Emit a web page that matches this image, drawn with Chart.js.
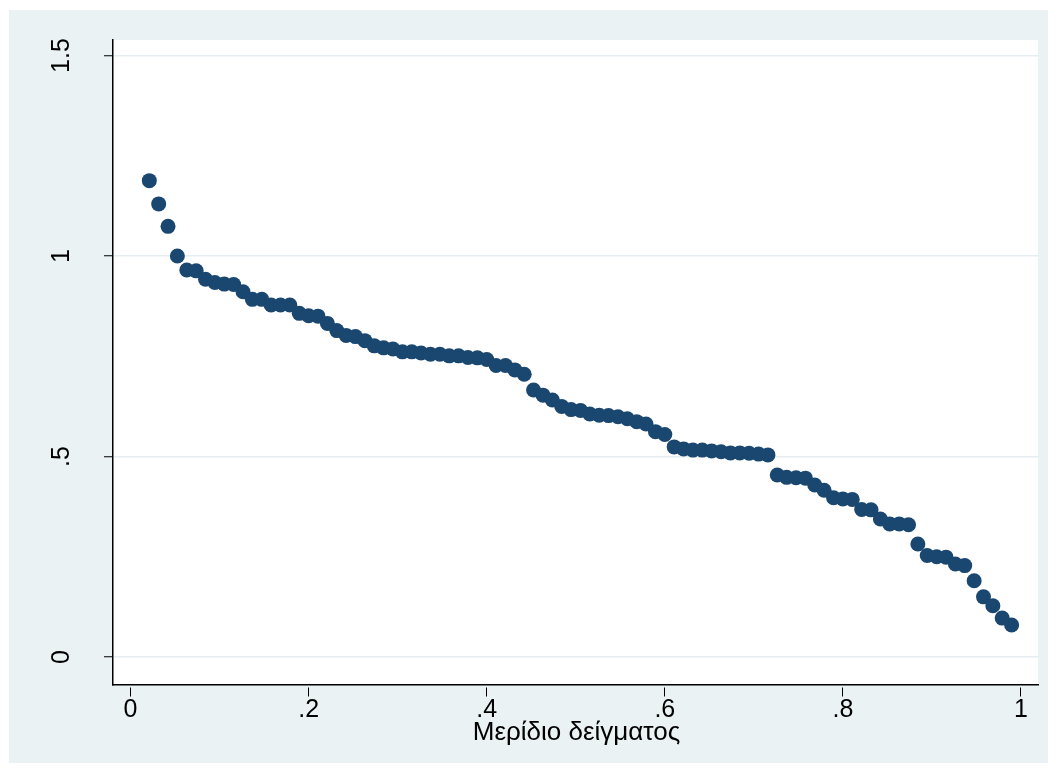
<!DOCTYPE html>
<html>
<head>
<meta charset="utf-8">
<script src="https://cdn.jsdelivr.net/npm/chart.js@4.4.0/dist/chart.umd.min.js"></script>
<style>
    html, body { margin: 0; padding: 0; background: #fff; }
</style>
</head>
<body>
<canvas id="shareChart" width="1057" height="773"></canvas>
<script>
// sample share (x) and sorted values (y)
const sampleShare = [
    0.0211, 0.0316, 0.0421, 0.0526, 0.0632, 0.0737, 0.0842, 0.0947, 0.1053, 0.1158,
    0.1263, 0.1368, 0.1474, 0.1579, 0.1684, 0.1789, 0.1895, 0.2000, 0.2105, 0.2211,
    0.2316, 0.2421, 0.2526, 0.2632, 0.2737, 0.2842, 0.2947, 0.3053, 0.3158, 0.3263,
    0.3368, 0.3474, 0.3579, 0.3684, 0.3789, 0.3895, 0.4000, 0.4105, 0.4211, 0.4316,
    0.4421, 0.4526, 0.4632, 0.4737, 0.4842, 0.4947, 0.5053, 0.5158, 0.5263, 0.5368,
    0.5474, 0.5579, 0.5684, 0.5789, 0.5895, 0.6000, 0.6105, 0.6211, 0.6316, 0.6421,
    0.6526, 0.6632, 0.6737, 0.6842, 0.6947, 0.7053, 0.7158, 0.7263, 0.7368, 0.7474,
    0.7579, 0.7684, 0.7789, 0.7895, 0.8000, 0.8105, 0.8211, 0.8316, 0.8421, 0.8526,
    0.8632, 0.8737, 0.8842, 0.8947, 0.9053, 0.9158, 0.9263, 0.9368, 0.9474, 0.9579,
    0.9684, 0.9789, 0.9895
];

const values = [
    1.188, 1.130, 1.074, 1.000, 0.965, 0.963, 0.942, 0.934, 0.930, 0.929,
    0.911, 0.892, 0.892, 0.878, 0.878, 0.878, 0.857, 0.851, 0.850, 0.832,
    0.814, 0.802, 0.799, 0.789, 0.776, 0.771, 0.768, 0.761, 0.761, 0.758,
    0.755, 0.755, 0.751, 0.751, 0.747, 0.746, 0.742, 0.727, 0.727, 0.716,
    0.705, 0.666, 0.653, 0.641, 0.625, 0.617, 0.615, 0.606, 0.603, 0.602,
    0.599, 0.594, 0.587, 0.581, 0.562, 0.555, 0.524, 0.519, 0.516, 0.516,
    0.514, 0.512, 0.509, 0.509, 0.508, 0.506, 0.504, 0.454, 0.448, 0.447,
    0.446, 0.429, 0.416, 0.397, 0.394, 0.393, 0.368, 0.367, 0.344, 0.332,
    0.332, 0.330, 0.282, 0.253, 0.250, 0.249, 0.232, 0.228, 0.190, 0.150,
    0.128, 0.097, 0.080
];

const xTicks = [0, 0.2, 0.4, 0.6, 0.8, 1];
const xTickLabels = ['0', '.2', '.4', '.6', '.8', '1'];
const yTicks = [0, 0.5, 1, 1.5];
const yTickLabels = ['0', '.5', '1', '1.5'];
const xTitle = 'Μερίδιο δείγματος';

const FONT = '"Liberation Sans", Arial, sans-serif';

const stataFrame = {
    id: 'stataFrame',
    beforeDraw(chart) {
        const { ctx, chartArea: a } = chart;
        ctx.save();
        ctx.fillStyle = '#ffffff';
        ctx.fillRect(0, 0, chart.width, chart.height);
        ctx.fillStyle = '#eaf2f3';
        ctx.fillRect(9, 10, chart.width - 18, chart.height - 20);
        ctx.fillStyle = '#ffffff';
        ctx.fillRect(a.left, a.top, a.right - a.left, a.bottom - a.top);
        ctx.restore();
    },
    afterDraw(chart) {
        const { ctx } = chart;
        const xScale = chart.scales.x;
        const yScale = chart.scales.y;
        ctx.save();
        ctx.fillStyle = '#000';
        ctx.font = `25px ${FONT}`;
        ctx.textAlign = 'center';
        ctx.textBaseline = 'alphabetic';

        // rotated y tick labels
        yTicks.forEach((v, i) => {
            ctx.save();
            ctx.translate(69, yScale.getPixelForValue(v));
            ctx.rotate(-Math.PI / 2);
            ctx.fillText(yTickLabels[i], 0, 0);
            ctx.restore();
        });

        // x tick labels
        xTicks.forEach((v, i) => {
            ctx.fillText(xTickLabels[i], xScale.getPixelForValue(v), 717);
        });

        // x title
        ctx.font = `26px ${FONT}`;
        ctx.fillText(xTitle, (xScale.left + xScale.right) / 2 + 1, 740);
        ctx.restore();
    }
};

new Chart(document.getElementById('shareChart'), {
    type: 'scatter',
    data: {
        datasets: [{
            data: sampleShare.map((x, i) => ({ x, y: values[i] })),
            backgroundColor: '#1a476f',
            borderColor: '#1a476f',
            borderWidth: 0,
            pointRadius: 7.5,
            pointHoverRadius: 7.5
        }]
    },
    options: {
        responsive: false,
        animation: false,
        layout: { padding: { left: 0, top: 40, right: 19, bottom: 0 } },
        scales: {
            x: {
                type: 'linear',
                min: -0.0197,
                max: 1.0191,
                afterBuildTicks: scale => { scale.ticks = xTicks.map(value => ({ value })); },
                afterFit: scale => { scale.height = 773 - 685; },
                ticks: { display: false },
                grid: {
                    drawOnChartArea: false,
                    tickColor: '#000',
                    tickLength: 12,
                    tickWidth: 1,
                    tickBorderDash: [0, 2, 9, 50]
                },
                border: { display: true, color: '#000', width: 1.5 }
            },
            y: {
                min: -0.0698,
                max: 1.5387,
                afterBuildTicks: scale => { scale.ticks = yTicks.map(value => ({ value })); },
                afterFit: scale => { scale.width = 113; },
                ticks: { display: false },
                grid: {
                    color: '#e6eef1',
                    lineWidth: 1.5,
                    tickColor: '#000',
                    tickLength: 9,
                    tickWidth: 1
                },
                border: { display: true, color: '#000', width: 1.5 }
            }
        },
        plugins: {
            legend: { display: false },
            tooltip: { enabled: false }
        }
    },
    plugins: [stataFrame]
});
</script>
</body>
</html>
